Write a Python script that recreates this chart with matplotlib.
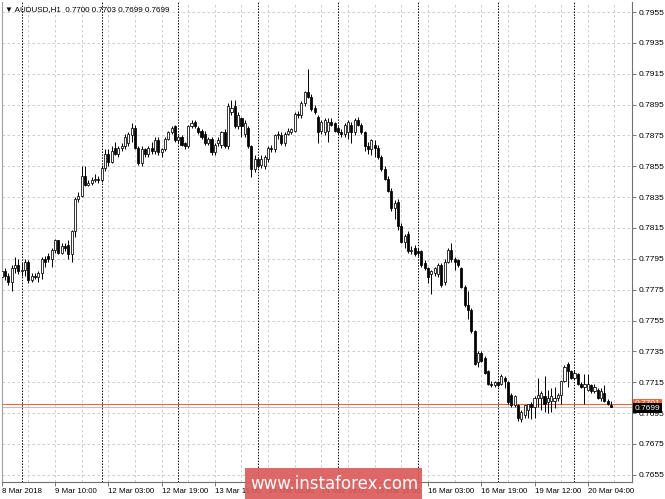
import matplotlib
matplotlib.use("Agg")
import matplotlib.pyplot as plt
import matplotlib.transforms as mtransforms
from matplotlib.patches import Rectangle
import numpy as np

# AUDUSD H1, prices in 1/10000 (0.7783 -> 7783), one entry per hourly bar
opens = [7783, 7787, 7784, 7780, 7789, 7791, 7787, 7788, 7793, 7781,
         7784, 7783, 7786, 7795, 7797, 7795, 7801, 7807, 7799, 7803,
         7804, 7798, 7813, 7834, 7836, 7849, 7843, 7844, 7846, 7847,
         7846, 7854, 7863, 7858, 7867, 7863, 7867, 7868, 7870, 7875,
         7880, 7867, 7857, 7866, 7863, 7867, 7865, 7872, 7864, 7866,
         7873, 7877, 7881, 7872, 7874, 7870, 7868, 7881, 7884, 7880,
         7878, 7876, 7870, 7873, 7864, 7870, 7869, 7877, 7868, 7890,
         7894, 7881, 7886, 7876, 7880, 7868, 7853, 7860, 7856, 7855,
         7860, 7867, 7866, 7875, 7875, 7870, 7876, 7877, 7878, 7889,
         7888, 7896, 7903, 7900, 7893, 7887, 7878, 7877, 7878, 7884,
         7883, 7880, 7877, 7876, 7877, 7882, 7877, 7885, 7882, 7877,
         7868, 7866, 7869, 7867, 7861, 7853, 7847, 7839, 7828, 7832,
         7816, 7806, 7811, 7800, 7802, 7800, 7800, 7792, 7789, 7785,
         7786, 7785, 7791, 7780, 7793, 7801, 7795, 7794, 7789, 7777,
         7765, 7762, 7748, 7728, 7734, 7731, 7722, 7714, 7713, 7715,
         7714, 7718, 7715, 7707, 7700, 7700, 7691, 7694, 7697, 7701,
         7699, 7705, 7705, 7706, 7702, 7703, 7703, 7705, 7707, 7716,
         7727, 7722, 7718, 7720, 7714, 7712, 7710, 7713, 7709, 7710,
         7705, 7708, 7703, 7700]
highs = [7790, 7789, 7786, 7791, 7796, 7795, 7792, 7795, 7794, 7786,
         7786, 7787, 7796, 7797, 7799, 7802, 7808, 7807, 7805, 7805,
         7807, 7814, 7835, 7838, 7855, 7855, 7846, 7848, 7850, 7849,
         7856, 7866, 7866, 7868, 7871, 7868, 7870, 7876, 7877, 7883,
         7882, 7868, 7868, 7867, 7868, 7871, 7874, 7874, 7867, 7874,
         7878, 7881, 7882, 7875, 7875, 7871, 7882, 7885, 7885, 7881,
         7879, 7878, 7874, 7874, 7870, 7874, 7878, 7879, 7896, 7898,
         7898, 7890, 7887, 7885, 7881, 7869, 7862, 7861, 7862, 7862,
         7868, 7869, 7876, 7878, 7877, 7877, 7880, 7880, 7890, 7891,
         7897, 7904, 7918, 7902, 7895, 7888, 7885, 7886, 7886, 7886,
         7884, 7881, 7879, 7883, 7885, 7884, 7886, 7887, 7883, 7878,
         7871, 7873, 7872, 7869, 7862, 7855, 7849, 7841, 7833, 7834,
         7818, 7811, 7813, 7803, 7804, 7802, 7801, 7794, 7790, 7788,
         7790, 7792, 7792, 7795, 7802, 7805, 7796, 7795, 7790, 7778,
         7774, 7763, 7749, 7735, 7735, 7732, 7723, 7716, 7716, 7716,
         7720, 7719, 7716, 7708, 7707, 7701, 7697, 7700, 7701, 7702,
         7706, 7718, 7709, 7719, 7710, 7711, 7712, 7708, 7716, 7726,
         7728, 7723, 7723, 7721, 7715, 7720, 7720, 7714, 7714, 7711,
         7711, 7713, 7704, 7703]
lows = [7777, 7781, 7778, 7774, 7786, 7785, 7784, 7784, 7779, 7780,
        7782, 7780, 7782, 7790, 7793, 7790, 7799, 7798, 7798, 7800,
        7795, 7793, 7809, 7832, 7835, 7842, 7842, 7843, 7845, 7844,
        7845, 7852, 7855, 7857, 7862, 7861, 7865, 7866, 7868, 7871,
        7866, 7856, 7855, 7861, 7861, 7863, 7863, 7862, 7861, 7865,
        7872, 7876, 7871, 7870, 7868, 7866, 7867, 7880, 7880, 7876,
        7873, 7869, 7869, 7862, 7862, 7868, 7867, 7867, 7866, 7888,
        7880, 7879, 7874, 7874, 7867, 7848, 7851, 7854, 7854, 7853,
        7858, 7864, 7864, 7873, 7869, 7868, 7875, 7876, 7877, 7886,
        7886, 7894, 7899, 7891, 7889, 7870, 7876, 7875, 7871, 7881,
        7877, 7876, 7874, 7874, 7873, 7870, 7875, 7881, 7876, 7865,
        7863, 7862, 7861, 7860, 7852, 7846, 7838, 7826, 7821, 7814,
        7805, 7802, 7799, 7798, 7797, 7797, 7790, 7788, 7779, 7772,
        7784, 7783, 7777, 7778, 7792, 7793, 7788, 7790, 7776, 7764,
        7756, 7747, 7726, 7725, 7728, 7720, 7713, 7712, 7712, 7712,
        7713, 7711, 7701, 7699, 7699, 7690, 7689, 7692, 7692, 7691,
        7692, 7699, 7697, 7696, 7695, 7696, 7698, 7703, 7701, 7715,
        7712, 7717, 7717, 7713, 7711, 7701, 7709, 7708, 7708, 7704,
        7703, 7702, 7700, 7699]
closes = [7787, 7784, 7780, 7789, 7791, 7787, 7788, 7793, 7781, 7784,
          7783, 7786, 7795, 7793, 7795, 7801, 7807, 7799, 7803, 7802,
          7798, 7813, 7834, 7836, 7849, 7843, 7844, 7846, 7847, 7846,
          7854, 7863, 7858, 7865, 7863, 7867, 7868, 7874, 7876, 7880,
          7867, 7857, 7866, 7863, 7867, 7865, 7872, 7864, 7866, 7873,
          7877, 7880, 7872, 7874, 7869, 7868, 7881, 7883, 7881, 7877,
          7874, 7870, 7873, 7864, 7869, 7872, 7877, 7868, 7894, 7893,
          7881, 7888, 7881, 7883, 7868, 7853, 7860, 7855, 7860, 7861,
          7867, 7866, 7875, 7876, 7870, 7876, 7878, 7879, 7889, 7888,
          7896, 7903, 7900, 7892, 7890, 7877, 7884, 7885, 7884, 7882,
          7878, 7877, 7876, 7882, 7884, 7877, 7885, 7882, 7877, 7868,
          7866, 7872, 7867, 7861, 7853, 7847, 7839, 7828, 7831, 7816,
          7806, 7810, 7800, 7801, 7798, 7799, 7791, 7789, 7783, 7787,
          7789, 7791, 7778, 7793, 7801, 7795, 7793, 7791, 7777, 7765,
          7762, 7748, 7727, 7734, 7729, 7721, 7714, 7713, 7715, 7713,
          7719, 7716, 7702, 7700, 7706, 7692, 7696, 7700, 7701, 7699,
          7705, 7707, 7708, 7701, 7705, 7706, 7705, 7707, 7716, 7725,
          7722, 7718, 7721, 7714, 7712, 7714, 7714, 7709, 7712, 7705,
          7709, 7703, 7701, 7699]

price_ticks = [0.7655, 0.7675, 0.7695, 0.7715, 0.7735, 0.7755, 0.7775, 0.7795,
               0.7815, 0.7835, 0.7855, 0.7875, 0.7895, 0.7915, 0.7935, 0.7955]
time_ticks = [0, 16, 32, 48, 64, 80, 96, 112, 128, 144, 160, 176]
time_labels = ["8 Mar 2018", "9 Mar 10:00", "12 Mar 03:00", "12 Mar 19:00",
               "13 Mar 11:00", "14 Mar 03:00", "14 Mar 19:00", "15 Mar 11:00",
               "16 Mar 03:00", "16 Mar 19:00", "19 Mar 12:00", "20 Mar 04:00"]
day_starts = [6, 30, 53, 77, 101, 125, 149, 172]
bid = 0.7699
ask = 0.7701

o = np.array(opens) / 10000
h = np.array(highs) / 10000
l = np.array(lows) / 10000
c = np.array(closes) / 10000
x = np.arange(len(o))
up = c >= o

plt.rcParams["font.family"] = ["Liberation Sans", "DejaVu Sans"]

W, H = 665, 499
fig = plt.figure(figsize=(W / 100, H / 100), dpi=100)
ax = fig.add_axes([1.5 / W, 1 - 482 / H, (632 - 1.5) / W, (482 - 2) / H])

# grid
for p in price_ticks:
    ax.axhline(p, color="#c4c4c4", lw=0.6, ls=(0, (3, 3)), zorder=0)
for g in np.arange(8, 190, 8):
    ax.axvline(g, color="#c4c4c4", lw=0.6, ls=(0, (3, 3)), zorder=0)
for d in day_starts:
    ax.axvline(d, color="black", lw=0.7, ls=(0, (1.5, 1.5)), zorder=1)

# bid / ask lines
ax.axhline(ask, color="#f0643c", lw=0.8, zorder=1)
ax.axhline(bid, color="#c0c0c0", lw=0.8, zorder=1)

# candles
ax.vlines(x, l, h, color="black", lw=0.7, zorder=2)
ax.bar(x[up], c[up] - o[up], bottom=o[up], width=0.62,
       facecolor="white", edgecolor="black", lw=0.55, zorder=3)
ax.bar(x[~up], c[~up] - o[~up], bottom=o[~up], width=0.62,
       facecolor="black", edgecolor="black", lw=0.55, zorder=3)

ax.set_xlim(-0.06, 189.27)
ax.set_ylim(0.76503, 0.79615)

ax.yaxis.tick_right()
ax.set_yticks(price_ticks)
ax.set_yticklabels([f"{p:.4f}" for p in price_ticks])
ax.set_xticks(time_ticks)
ax.set_xticklabels(time_labels, ha="left")
ax.tick_params(axis="y", length=3, width=0.6, pad=1.5, labelsize=6, color="#606060")
ax.tick_params(axis="x", length=3, width=0.6, pad=1.5, labelsize=5.7, color="#606060")

ax.spines["top"].set_visible(False)
ax.spines["left"].set_color("#a0a0a0")
ax.spines["right"].set_color("#707070")
ax.spines["bottom"].set_color("#707070")
for s in ["left", "right", "bottom"]:
    ax.spines[s].set_linewidth(0.8)

# symbol header with last bar OHLC
header = "\u25bc AUDUSD,H1  {:.4f} {:.4f} {:.4f} {:.4f}".format(o[-1], h[-1], l[-1], c[-1])
ax.text(0.006, 0.992, header, transform=ax.transAxes, fontsize=5.8, va="top", ha="left")

# price labels on the right axis
tr = mtransforms.blended_transform_factory(ax.transAxes, ax.transData)
ax.text(1.004, ask, f"{ask:.4f}", transform=tr, fontsize=6, color="white",
        va="center", ha="left", zorder=5, clip_on=False,
        bbox=dict(boxstyle="square,pad=0.2", fc="#f0643c", ec="none"))
ax.text(1.004, bid - 0.00008, f"{bid:.4f}", transform=tr, fontsize=6, color="white",
        va="center", ha="left", zorder=6, clip_on=False,
        bbox=dict(boxstyle="square,pad=0.2", fc="black", ec="none"))

# watermark
fig.add_artist(Rectangle((245 / W, 0), (422 - 245) / W, (499 - 468) / H,
                         transform=fig.transFigure, fc="#dc5a5a", ec="none",
                         alpha=0.92, zorder=10))
fig.text(334 / W, 1 - 484 / H, "www.instaforex.com", color="white", fontsize=12,
         ha="center", va="center", zorder=11, family="DejaVu Sans")

fig.savefig("out.png", dpi=100)
